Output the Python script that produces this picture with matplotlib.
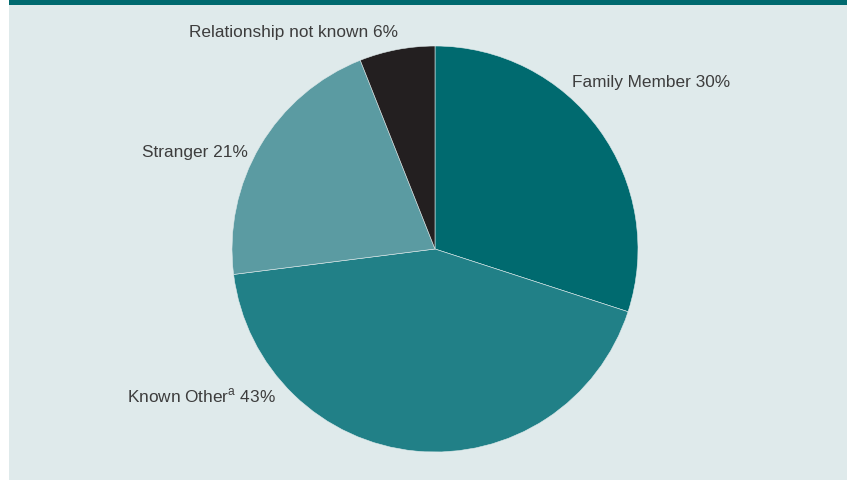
import matplotlib.pyplot as plt
from matplotlib.patches import Rectangle

plt.rcParams['font.family'] = ['Liberation Sans', 'DejaVu Sans']
plt.rcParams['mathtext.fontset'] = 'custom'
plt.rcParams['mathtext.rm'] = 'Liberation Sans'

labels = ['Family Member 30%', r'Known Other$^{\mathrm{a}}$ 43%', 'Stranger 21%', 'Relationship not known 6%']
shares = [30, 43, 21, 6]
colors = ['#006a6f', '#218087', '#5b9ba2', '#231f20']

# label anchor points (pixels from top-left) and alignment
label_pos = [(572, 82, 'left'), (276, 396, 'right'), (248, 152, 'right'), (398, 32, 'right')]

fig = plt.figure(figsize=(8.47, 4.8), dpi=100)
fig.patch.set_facecolor('white')
ax = fig.add_axes([0, 0, 1, 1])
ax.set_xlim(0, 847)
ax.set_ylim(0, 480)
ax.set_aspect('equal')
ax.axis('off')

ax.add_patch(Rectangle((9, 0), 838, 480, facecolor='#dfeaeb', edgecolor='none', zorder=0))
ax.add_patch(Rectangle((9, 475), 838, 5, facecolor='#006a6f', edgecolor='none', zorder=1))

wedges, texts = ax.pie(shares, labels=labels, colors=colors, startangle=90, counterclock=False,
                       center=(435, 480 - 249), radius=203, frame=True,
                       wedgeprops=dict(linewidth=0.4, edgecolor='#dfeaeb'),
                       textprops=dict(fontsize=12.4, color='#3d3d3d'))
for t, (x, y, ha) in zip(texts, label_pos):
    t.set_position((x, 480 - y))
    t.set_ha(ha)
    t.set_va('center')

ax.set_xlim(0, 847)
ax.set_ylim(0, 480)
ax.axis('off')

fig.savefig('out.png', dpi=100)
